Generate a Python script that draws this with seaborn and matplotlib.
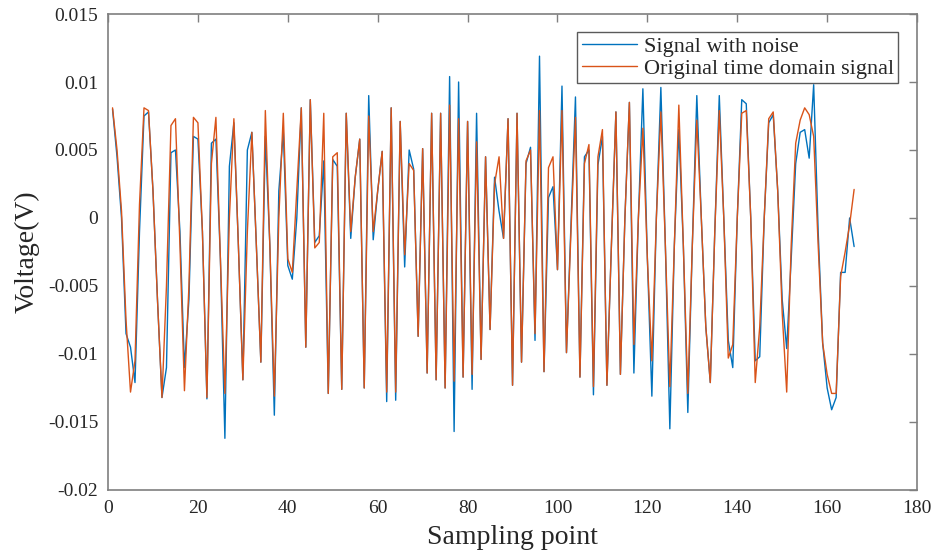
import numpy as np
import pandas as pd
import matplotlib
matplotlib.use("Agg")
import matplotlib.pyplot as plt
import seaborn as sns

sample_idx = list(range(1, 167))

original_signal = [
    0.0081, 0.0050, 0.0005, -0.0075, -0.0128, -0.0105, 0.0010, 0.0081, 0.0079, 0.0020,
    -0.0060, -0.0132, -0.0050, 0.0068, 0.0073, -0.0020, -0.0127, -0.0050, 0.0074, 0.0070,
    -0.0010, -0.0132, 0.0040, 0.0074, -0.0030, -0.0129, 0.0000, 0.0073, -0.0020, -0.0119,
    -0.0010, 0.0063, -0.0020, -0.0106, 0.0079, -0.0020, -0.0131, 0.0000, 0.0077, -0.0030,
    -0.0040, 0.0020, 0.0081, -0.0095, 0.0087, -0.0022, -0.0018, 0.0077, -0.0129, 0.0045,
    0.0048, -0.0126, 0.0077, -0.0010, 0.0030, 0.0058, -0.0125, 0.0075, -0.0010, 0.0020,
    0.0049, -0.0128, 0.0081, -0.0128, 0.0071, -0.0027, 0.0040, 0.0035, -0.0087, 0.0051,
    -0.0114, 0.0077, -0.0119, 0.0077, -0.0125, 0.0083, -0.0120, 0.0073, -0.0117, 0.0071,
    -0.0115, 0.0056, -0.0104, 0.0045, -0.0082, 0.0025, 0.0045, -0.0015, 0.0073, -0.0123,
    0.0077, -0.0106, 0.0042, 0.0050, -0.0085, 0.0079, -0.0113, 0.0037, 0.0045, -0.0038,
    0.0079, -0.0099, -0.0010, 0.0074, -0.0117, 0.0040, 0.0054, -0.0124, 0.0045, 0.0065,
    -0.0123, -0.0020, 0.0078, -0.0115, 0.0000, 0.0085, -0.0093, 0.0000, 0.0066, -0.0030,
    -0.0105, 0.0000, 0.0078, -0.0020, -0.0124, -0.0020, 0.0083, -0.0020, -0.0129, -0.0020,
    0.0072, 0.0000, -0.0080, -0.0121, -0.0010, 0.0079, 0.0000, -0.0103, -0.0093, 0.0000,
    0.0077, 0.0079, 0.0000, -0.0121, -0.0080, 0.0000, 0.0073, 0.0078, 0.0020, -0.0070,
    -0.0128, -0.0020, 0.0055, 0.0072, 0.0081, 0.0076, 0.0060, -0.0020, -0.0092, -0.0115,
    -0.0129, -0.0129, -0.0043, -0.0025, -0.0005, 0.0021,
]

noisy_signal = [
    0.0080, 0.0045, 0.0000, -0.0085, -0.0095, -0.0121, -0.0010, 0.0075, 0.0078, 0.0020,
    -0.0060, -0.0132, -0.0110, 0.0048, 0.0050, -0.0010, -0.0110, -0.0060, 0.0060, 0.0058,
    -0.0010, -0.0133, 0.0055, 0.0058, -0.0030, -0.0162, 0.0038, 0.0070, -0.0020, -0.0119,
    0.0050, 0.0063, -0.0020, -0.0106, 0.0060, -0.0020, -0.0145, 0.0020, 0.0063, -0.0035,
    -0.0045, 0.0000, 0.0081, -0.0095, 0.0087, -0.0018, -0.0013, 0.0042, -0.0129, 0.0043,
    0.0038, -0.0126, 0.0077, -0.0015, 0.0030, 0.0058, -0.0125, 0.0090, -0.0016, 0.0020,
    0.0049, -0.0135, 0.0081, -0.0134, 0.0071, -0.0036, 0.0050, 0.0036, -0.0087, 0.0051,
    -0.0114, 0.0077, -0.0119, 0.0077, -0.0125, 0.0104, -0.0157, 0.0100, -0.0117, 0.0071,
    -0.0126, 0.0077, -0.0104, 0.0045, -0.0082, 0.0030, 0.0005, -0.0015, 0.0073, -0.0123,
    0.0077, -0.0106, 0.0040, 0.0052, -0.0090, 0.0119, -0.0113, 0.0015, 0.0023, -0.0038,
    0.0097, -0.0099, -0.0005, 0.0089, -0.0117, 0.0045, 0.0050, -0.0130, 0.0039, 0.0060,
    -0.0123, -0.0020, 0.0078, -0.0115, 0.0000, 0.0085, -0.0114, 0.0000, 0.0095, -0.0030,
    -0.0131, 0.0000, 0.0096, -0.0020, -0.0155, -0.0020, 0.0065, -0.0020, -0.0143, -0.0020,
    0.0090, 0.0000, -0.0080, -0.0121, -0.0010, 0.0090, 0.0000, -0.0090, -0.0110, 0.0000,
    0.0087, 0.0084, 0.0000, -0.0105, -0.0102, 0.0000, 0.0070, 0.0076, 0.0020, -0.0060,
    -0.0096, -0.0030, 0.0040, 0.0063, 0.0065, 0.0044, 0.0098, -0.0010, -0.0092, -0.0125,
    -0.0141, -0.0132, -0.0040, -0.0040, 0.0000, -0.0021,
]

series_names = ["Signal with noise", "Original time domain signal"]
x_ticks = [0, 20, 40, 60, 80, 100, 120, 140, 160, 180]
y_ticks = [-0.02, -0.015, -0.01, -0.005, 0, 0.005, 0.01, 0.015]
y_tick_labels = ["-0.02", "-0.015", "-0.01", "-0.005", "0", "0.005", "0.01", "0.015"]

df = pd.DataFrame({
    "x": sample_idx * 2,
    "y": noisy_signal + original_signal,
    "series": [series_names[0]] * len(sample_idx) + [series_names[1]] * len(sample_idx),
})

sns.set_style("white")
plt.rcParams["font.family"] = ["Liberation Serif", "DejaVu Serif"]

fig = plt.figure(figsize=(9.37, 5.58), dpi=100)
ax = fig.add_axes([0.1153, 0.1219, 0.8634, 0.853])

palette = {series_names[0]: "#0072BD", series_names[1]: "#D95319"}
sns.lineplot(data=df, x="x", y="y", hue="series", palette=palette,
             linewidth=1.0, ax=ax, sort=False, estimator=None)

ax.set_xlim(0, 180)
ax.set_ylim(-0.02, 0.015)
ax.set_xticks(x_ticks)
ax.set_xticklabels([str(t) for t in x_ticks])
ax.set_yticks(y_ticks)
ax.set_yticklabels(y_tick_labels)

axis_color = "#7f7f7f"
for s in ax.spines.values():
    s.set_visible(True)
    s.set_color(axis_color)
    s.set_linewidth(1.2)
ax.tick_params(direction="in", length=6, width=1, color=axis_color,
               top=True, right=True, labelsize=14, labelcolor="#262626", pad=7)

ax.set_xlabel("Sampling point", fontsize=20, color="#262626", labelpad=6)
ax.set_ylabel("Voltage(V)", fontsize=20, color="#262626", labelpad=6)

leg = ax.legend(loc="upper right", bbox_to_anchor=(0.977, 0.962), fontsize=16,
                frameon=True, fancybox=False, framealpha=1, edgecolor="#5a5a5a",
                handlelength=2.5, handletextpad=0.3, borderpad=0.2, labelspacing=0.05,
                borderaxespad=0.0)
leg.get_frame().set_linewidth(1.0)

fig.savefig("out.png", dpi=100)
